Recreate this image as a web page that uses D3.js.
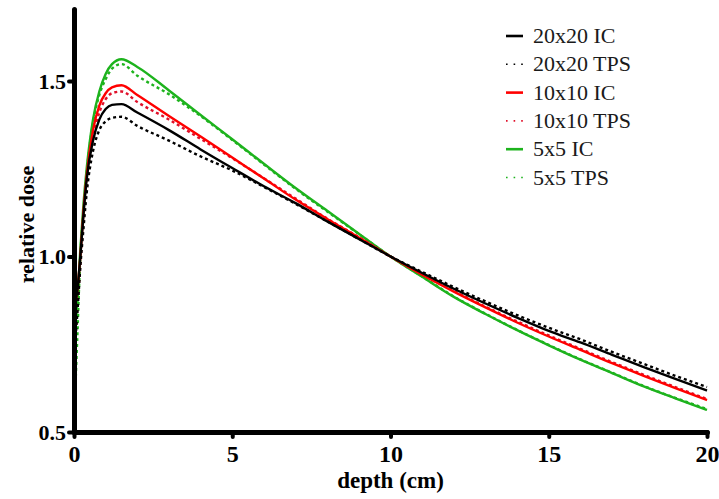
<!DOCTYPE html>
<html>
<head>
<meta charset="utf-8">
<script src="https://cdn.jsdelivr.net/npm/d3@7"></script>
<style>
  body { margin: 0; background: #fff; }
  svg text { font-family: "Liberation Serif", "Times New Roman", serif; }
  .tick text { font-weight: bold; fill: #000; }
  .axis-label { font-weight: bold; font-size: 23px; fill: #000; }
  .legend text { font-size: 22px; fill: #1a1a1a; }
</style>
</head>
<body>
<div id="chart"></div>
<script>
const depth = [0, 0.1, 0.2, 0.3, 0.4, 0.6, 0.8, 1.0, 1.2, 1.5, 2, 3, 4, 5, 6, 7, 8, 9, 10, 11, 12, 13, 14, 15, 16, 17, 18, 19, 20]

const ic20 = [0.85, 0.90, 1.00, 1.12, 1.22, 1.33, 1.39, 1.42, 1.432, 1.434, 1.41, 1.36, 1.305, 1.252, 1.20, 1.152, 1.10, 1.05, 1.0, 0.953, 0.908, 0.866, 0.826, 0.788, 0.755, 0.72, 0.685, 0.651, 0.618]
const tps20 = [0.72, 0.83, 0.97, 1.08, 1.18, 1.30, 1.36, 1.385, 1.395, 1.398, 1.372, 1.33, 1.285, 1.245, 1.198, 1.15, 1.10, 1.05, 1.0, 0.956, 0.913, 0.872, 0.833, 0.797, 0.764, 0.728, 0.694, 0.66, 0.628]
const ic10 = [0.85, 0.90, 1.00, 1.13, 1.23, 1.36, 1.43, 1.465, 1.482, 1.488, 1.46, 1.40, 1.342, 1.282, 1.222, 1.162, 1.107, 1.054, 1.0, 0.948, 0.90, 0.855, 0.812, 0.772, 0.734, 0.696, 0.66, 0.625, 0.591]
const tps10 = [0.72, 0.85, 0.98, 1.11, 1.21, 1.34, 1.41, 1.448, 1.465, 1.47, 1.44, 1.39, 1.335, 1.28, 1.223, 1.165, 1.108, 1.055, 1.0, 0.949, 0.902, 0.857, 0.815, 0.775, 0.737, 0.699, 0.663, 0.628, 0.594]
const ic5 = [0.78, 0.86, 1.02, 1.15, 1.25, 1.39, 1.47, 1.52, 1.548, 1.562, 1.54, 1.473, 1.403, 1.334, 1.264, 1.195, 1.13, 1.065, 1.0, 0.942, 0.885, 0.836, 0.79, 0.747, 0.706, 0.668, 0.63, 0.596, 0.563]
const tps5 = [0.52, 0.76, 1.00, 1.13, 1.237, 1.38, 1.46, 1.505, 1.535, 1.548, 1.515, 1.462, 1.40, 1.332, 1.262, 1.193, 1.128, 1.064, 1.0, 0.943, 0.886, 0.837, 0.791, 0.748, 0.707, 0.669, 0.631, 0.597, 0.565]

const xTicks = [0, 5, 10, 15, 20]
const yTicks = [0.5, 1.0, 1.5]

const series = [
  { name: '20x20 IC', values: ic20, color: '#000', dash: null },
  { name: '20x20 TPS', values: tps20, color: '#000', dash: '3,3' },
  { name: '10x10 IC', values: ic10, color: '#f00', dash: null },
  { name: '10x10 TPS', values: tps10, color: '#e0102a', dash: '3,3' },
  { name: '5x5 IC', values: ic5, color: '#1db31d', dash: null },
  { name: '5x5 TPS', values: tps5, color: '#1db31d', dash: '3,3' }
]

const width = 719, height = 499
const svg = d3.select('#chart').append('svg').attr('width', width).attr('height', height)

const x = d3.scaleLinear().domain([0, 20]).range([74, 707])
const y = d3.scaleLinear().domain([0.5, 1.705]).range([432, 9])

const line = d3.line().curve(d3.curveMonotoneX)

// curves first, axes drawn on top
series.slice().reverse().forEach(s => {
  svg.append('path')
    .datum(depth.map((d, i) => [x(d), y(s.values[i])]))
    .attr('d', line)
    .attr('fill', 'none')
    .attr('stroke', s.color)
    .attr('stroke-width', 2.4)
    .attr('stroke-dasharray', s.dash)
})

const xAxis = svg.append('g')
  .attr('transform', `translate(0,${y(0.5)})`)
  .call(d3.axisBottom(x).tickValues(xTicks).tickFormat(d3.format('d')).tickSize(5).tickSizeOuter(0).tickPadding(8))
xAxis.selectAll('text').style('font-size', '24px')

const yAxis = svg.append('g')
  .attr('transform', `translate(${x(0)},0)`)
  .call(d3.axisLeft(y).tickValues(yTicks).tickFormat(d3.format('.1f')).tickSize(5).tickSizeOuter(0).tickPadding(3))
yAxis.selectAll('text').style('font-size', '22px')

svg.selectAll('.domain').attr('stroke', '#000').attr('stroke-width', 5).attr('stroke-linecap', 'round')
svg.selectAll('.tick line').attr('stroke', '#000').attr('stroke-width', 4).attr('stroke-linecap', 'round')

svg.append('text')
  .attr('class', 'axis-label')
  .attr('x', (x(0) + x(20)) / 2)
  .attr('y', 488)
  .attr('text-anchor', 'middle')
  .text('depth (cm)')

svg.append('text')
  .attr('class', 'axis-label')
  .attr('transform', `translate(34, ${(y(0.5) + 9) / 2 + 4}) rotate(-90)`)
  .attr('text-anchor', 'middle')
  .style('font-size', '22px')
  .text('relative dose')

const legend = svg.append('g').attr('class', 'legend')
series.forEach((s, i) => {
  const ly = 36 + i * 28.3
  legend.append('line')
    .attr('x1', 506).attr('x2', 523).attr('y1', ly).attr('y2', ly)
    .attr('stroke', s.color)
    .attr('stroke-width', s.dash ? 1.6 : 2.6)
    .attr('stroke-dasharray', s.dash ? '1.6,6' : null)
  legend.append('text')
    .attr('x', 533).attr('y', ly + 7)
    .text(s.name)
})
</script>
</body>
</html>
